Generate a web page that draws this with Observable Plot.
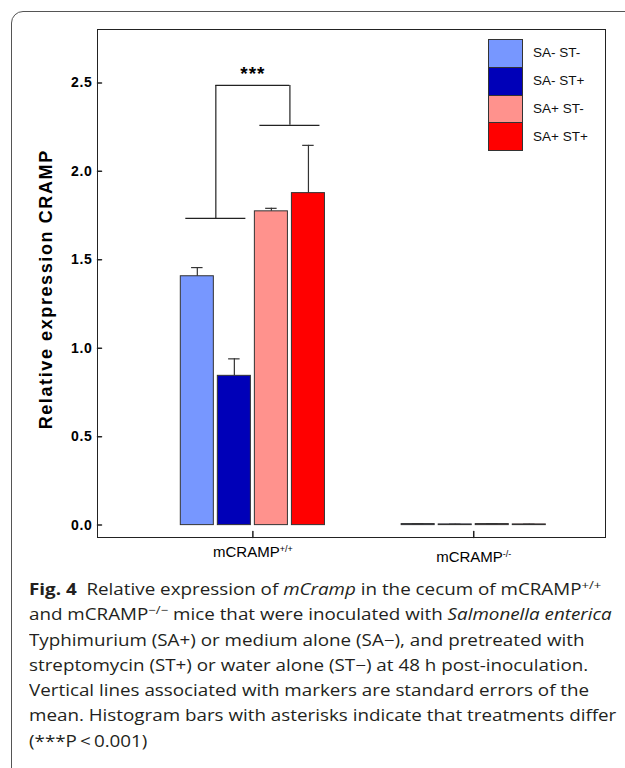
<!DOCTYPE html>
<html><head><meta charset="utf-8">
<script src="https://cdn.jsdelivr.net/npm/d3@7"></script>
<script src="https://cdn.jsdelivr.net/npm/@observablehq/plot@0.6"></script>
<style>
body{margin:0;background:#fff;}
#page{position:relative;width:625px;height:768px;overflow:hidden;font-family:"Liberation Sans",Arial,sans-serif;background:#fff;}
#border{position:absolute;left:11px;top:11px;width:720px;height:790px;border:1px solid #555;border-radius:12px;box-sizing:border-box;}
#chart{position:absolute;left:0;top:0;}
#legend{position:absolute;left:488px;top:39px;font-size:13.5px;color:#111;}
.row{display:flex;align-items:center;height:27.75px;}
.sw{width:35px;height:28.75px;box-sizing:border-box;border:1px solid #333;margin-bottom:-1px;}
.lab{margin-left:10px;white-space:nowrap;}
#caption{position:absolute;left:29px;top:577px;font-family:"Open Sans",sans-serif;font-size:16px;line-height:25.3px;color:#231f20;white-space:nowrap;transform:scaleX(1.175);transform-origin:0 0;}
#caption sup{font-size:0.7em;vertical-align:0.5em;line-height:0;}
</style>
</head><body>
<div id="page">
<div id="border"></div>
<div id="chart"></div>
<div id="legend"></div>
<div id="caption">
<div><b>Fig. 4</b>&nbsp; Relative expression of <i>mCramp</i> in the cecum of mCRAMP<sup>+/+</sup></div>
<div>and mCRAMP<sup>−/−</sup> mice that were inoculated with <i>Salmonella enterica</i></div>
<div>Typhimurium (SA+) or medium alone (SA−), and pretreated with</div>
<div>streptomycin (ST+) or water alone (ST−) at 48 h post-inoculation.</div>
<div>Vertical lines associated with markers are standard errors of the</div>
<div>mean. Histogram bars with asterisks indicate that treatments differ</div>
<div>(***P&thinsp;&lt;&thinsp;0.001)</div>
</div>
</div>
<script>
// ---- data ----
const groupBase = "mCRAMP";
const groupSup = ["+/+", "-/-"];
const groups = groupSup.map(s => groupBase + s);
const treatments = ["SA- ST-", "SA- ST+", "SA+ ST-", "SA+ ST+"];
const colors = ["#7797FF", "#0000B8", "#FF928D", "#FF0000"];
const meansWT = [1.407, 0.844, 1.774, 1.877];
const seWT = [0.049, 0.096, 0.017, 0.270];
const meansKO = [0.006, 0.004, 0.006, 0.004];
const seKO = [0.002, 0.001, 0.002, 0.001];
const yTicks = [0.0, 0.5, 1.0, 1.5, 2.0, 2.5];
const yLabel = "Relative expression CRAMP";
const significance = "***";
const bracketLevels = [1.734, 2.26];   // arm heights over SA- pair and SA+ pair
const bracketTop = 2.486;

// ---- layout helpers ----
const step = 0.1677, half = 0.0748, capHalf = 0.026, armHalf = 0.136;
const rows = [];
groups.forEach((g, gi) => treatments.forEach((t, ti) => {
  rows.push({
    group: g, treatment: t,
    mean: gi === 0 ? meansWT[ti] : meansKO[ti],
    se: gi === 0 ? seWT[ti] : seKO[ti],
    cx: gi + (ti - 1.5) * step
  });
}));
const wt = rows.filter(r => r.group === groups[0]);
const pairCenters = [(wt[0].cx + wt[1].cx) / 2, (wt[2].cx + wt[3].cx) / 2];
const arms = pairCenters.map((c, i) => ({c, level: bracketLevels[i]}));
const tickShape = {draw(ctx, l) { ctx.moveTo(0, 0); ctx.lineTo(0, -l); }};
const ink = "#222";

const chart = Plot.plot({
  width: 625, height: 575,
  marginLeft: 97, marginRight: 20, marginTop: 29, marginBottom: 38,
  style: {fontFamily: "'Liberation Sans', Arial, sans-serif", background: "transparent", color: "#000"},
  x: {domain: [-0.7035, 1.5966], axis: null},
  y: {domain: [-0.07, 2.802], axis: null},
  color: {domain: treatments, range: colors},
  marks: [
    Plot.rectY(rows, {x1: d => d.cx - half, x2: d => d.cx + half, y1: 0, y2: "mean", fill: "treatment", stroke: "#333", strokeWidth: 1}),
    Plot.ruleX(rows, {x: "cx", y1: "mean", y2: d => d.mean + d.se, stroke: "#333", strokeWidth: 1.2}),
    Plot.ruleY(rows, {x1: d => d.cx - capHalf, x2: d => d.cx + capHalf, y: d => d.mean + d.se, stroke: "#333", strokeWidth: 1.2}),
    // significance bracket
    Plot.ruleY(arms, {x1: d => d.c - armHalf, x2: d => d.c + armHalf, y: "level", stroke: ink, strokeWidth: 1.2}),
    Plot.ruleX(arms, {x: "c", y1: "level", y2: bracketTop, stroke: ink, strokeWidth: 1.2}),
    Plot.ruleY([bracketTop], {x1: pairCenters[0], x2: pairCenters[1], y: d => d, stroke: ink, strokeWidth: 1.2}),
    Plot.text([significance], {x: (pairCenters[0] + pairCenters[1]) / 2, y: bracketTop, text: d => d, dy: -11, fontSize: 19, fontWeight: "bold", fill: "#000"}),
    // axes
    Plot.frame({stroke: "#222", strokeWidth: 1}),
    Plot.vector(yTicks, {y: d => d, frameAnchor: "left", rotate: 90, length: 4, anchor: "start", shape: tickShape, stroke: "#222"}),
    Plot.vector([0, 1], {x: d => d, frameAnchor: "bottom", rotate: 0, length: 6, anchor: "start", shape: tickShape, stroke: "#222"}),
    Plot.axisY(yTicks, {tickSize: 0, tickPadding: 5, tickFormat: d => d.toFixed(1), fontSize: 14, fontWeight: "bold"}),
    Plot.axisX([0, 1], {tickSize: 0, tickPadding: 9, tickFormat: i => groups[i], fontSize: 15}),
    Plot.text([yLabel], {frameAnchor: "left", textAnchor: "middle", text: d => d, rotate: -90, dx: -51, dy: 5.8, fontSize: 18, fontWeight: "bold", fill: "#000"})
  ]
});
document.getElementById("chart").appendChild(chart);

// letter spacing on bold chart text
chart.querySelectorAll('g[aria-label="y-axis tick label"] text').forEach(t => t.style.letterSpacing = "0.7px");
chart.querySelectorAll('text').forEach(t => {
  if (t.textContent === yLabel) t.style.letterSpacing = "1.6px";
  if (t.textContent === significance) t.style.letterSpacing = "1px";
});
// superscripts on group labels
const ns = "http://www.w3.org/2000/svg";
chart.querySelectorAll('g[aria-label="x-axis tick label"] text').forEach((t, i) => {
  while (t.firstChild) t.removeChild(t.firstChild);
  const a = document.createElementNS(ns, "tspan"); a.textContent = groupBase;
  if (i === 1) a.setAttribute("dy", "5");
  const b = document.createElementNS(ns, "tspan"); b.textContent = groupSup[i];
  b.setAttribute("font-size", "9"); b.setAttribute("dy", "-5.5");
  t.appendChild(a); t.appendChild(b);
});

// legend
const lg = document.getElementById("legend");
treatments.forEach((t, i) => {
  const r = document.createElement("div"); r.className = "row";
  const s = document.createElement("div"); s.className = "sw"; s.style.background = colors[i];
  const l = document.createElement("span"); l.className = "lab"; l.textContent = t;
  r.appendChild(s); r.appendChild(l); lg.appendChild(r);
});
</script>
</body></html>
